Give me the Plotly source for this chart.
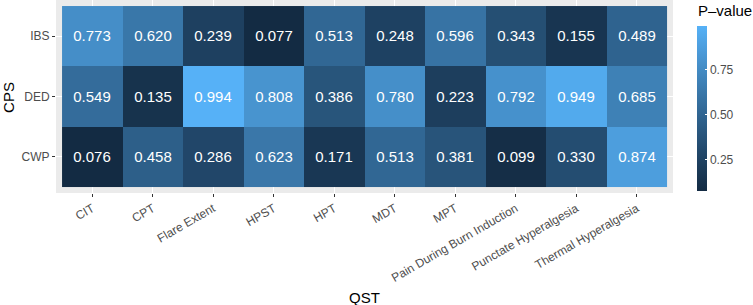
import plotly.graph_objects as go

qst = ["CIT", "CPT", "Flare Extent", "HPST", "HPT", "MDT", "MPT",
       "Pain During Burn Induction", "Punctate Hyperalgesia", "Thermal Hyperalgesia"]
cps = ["CWP", "DED", "IBS"]
cwp_vals = [0.076, 0.458, 0.286, 0.623, 0.171, 0.513, 0.381, 0.099, 0.330, 0.874]
ded_vals = [0.549, 0.135, 0.994, 0.808, 0.386, 0.780, 0.223, 0.792, 0.949, 0.685]
ibs_vals = [0.773, 0.620, 0.239, 0.077, 0.513, 0.248, 0.596, 0.343, 0.155, 0.489]
legend_ticks = [0.25, 0.50, 0.75]
legend_ticktext = ["0.25", "0.50", "0.75"]

z = [cwp_vals, ded_vals, ibs_vals]
text = [[f"{v:.3f}" for v in row] for row in z]

# ggplot2 default gradient interpolated in Lab space
def srgb_to_lin(c):
    c = c / 255.0
    return c / 12.92 if c <= 0.04045 else ((c + 0.055) / 1.055) ** 2.4

def lin_to_srgb(c):
    c = max(0.0, min(1.0, c))
    v = 12.92 * c if c <= 0.0031308 else 1.055 * c ** (1 / 2.4) - 0.055
    return v * 255.0

WX, WY, WZ = 0.95047, 1.0, 1.08883

def f(t):
    return t ** (1 / 3) if t > 216 / 24389 else (24389 / 27 * t + 16) / 116

def finv(t):
    return t ** 3 if t ** 3 > 216 / 24389 else (116 * t - 16) / (24389 / 27)

def hex_to_lab(h):
    r, g, b = [srgb_to_lin(int(h[i:i + 2], 16)) for i in (1, 3, 5)]
    X = 0.4124 * r + 0.3576 * g + 0.1805 * b
    Y = 0.2126 * r + 0.7152 * g + 0.0722 * b
    Z = 0.0193 * r + 0.1192 * g + 0.9505 * b
    fx, fy, fz = f(X / WX), f(Y / WY), f(Z / WZ)
    return 116 * fy - 16, 500 * (fx - fy), 200 * (fy - fz)

def lab_to_rgb(L, a, b):
    fy = (L + 16) / 116
    fx = fy + a / 500
    fz = fy - b / 200
    X, Y, Z = WX * finv(fx), WY * finv(fy), WZ * finv(fz)
    r = 3.2406 * X - 1.5372 * Y - 0.4986 * Z
    g = -0.9689 * X + 1.8758 * Y + 0.0415 * Z
    bb = 0.0557 * X - 0.2040 * Y + 1.0570 * Z
    return "rgb(%d,%d,%d)" % tuple(round(lin_to_srgb(c)) for c in (r, g, bb))

lo, hi = hex_to_lab("#132B43"), hex_to_lab("#56B1F7")
n = 20
colorscale = []
for i in range(n + 1):
    t = i / n
    lab = [lo[k] + (hi[k] - lo[k]) * t for k in range(3)]
    colorscale.append([t, lab_to_rgb(*lab)])

allv = cwp_vals + ded_vals + ibs_vals
zmin, zmax = min(allv), max(allv)

FONT = "Liberation Sans, Arial, Helvetica, sans-serif"

fig = go.Figure(go.Heatmap(
    x=qst, y=cps, z=z, text=text, texttemplate="%{text}",
    textfont=dict(color="white", size=15, family=FONT),
    colorscale=colorscale, zmin=zmin, zmax=zmax, xgap=0, ygap=0,
    hoverinfo="skip",
    colorbar=dict(
        x=1.039, xanchor="left", y=0.438, yanchor="middle",
        thickness=10, thicknessmode="pixels", len=165, lenmode="pixels",
        outlinewidth=0, ticks="inside", ticklen=2, tickcolor="white",
        tickvals=legend_ticks, ticktext=legend_ticktext,
        tickfont=dict(size=12, color="#4D4D4D", family=FONT),
        xpad=0, ypad=0,
    ),
))

fig.update_layout(
    width=753, height=305,
    margin=dict(l=56, r=80, t=0, b=112),
    paper_bgcolor="white", plot_bgcolor="#EBEBEB",
    font=dict(family=FONT),
    annotations=[
        dict(text="QST", xref="paper", yref="paper", x=0.5, y=-0.544, yanchor="middle",
             showarrow=False, font=dict(size=15, color="black", family=FONT)),
        dict(text="CPS", xref="paper", yref="paper", x=-0.078, y=0.497, xanchor="center",
             textangle=-90, showarrow=False, font=dict(size=15, color="black", family=FONT)),
        dict(text="P\u2013value", xref="paper", yref="paper", x=1.0375, y=0.948,
             xanchor="left", yanchor="middle", showarrow=False,
             font=dict(size=15, color="black", family=FONT)),
    ],
)
fig.update_xaxes(range=[-0.6, 9.6], showgrid=True, gridcolor="white", gridwidth=1,
                 ticks="outside", ticklen=3, tickcolor="#333333", tickwidth=1,
                 tickangle=-30, tickfont=dict(size=12, color="#4D4D4D", family=FONT),
                 zeroline=False, showline=False, automargin=False)
fig.update_yaxes(range=[-0.6, 2.6], showgrid=True, gridcolor="white", gridwidth=1,
                 ticks="outside", ticklen=3, tickcolor="#333333", tickwidth=1,
                 tickfont=dict(size=12, color="#4D4D4D", family=FONT),
                 zeroline=False, showline=False, automargin=False)

fig.write_html("out.html", config={"displayModeBar": False},
               post_script="document.body.style.margin='0';")
